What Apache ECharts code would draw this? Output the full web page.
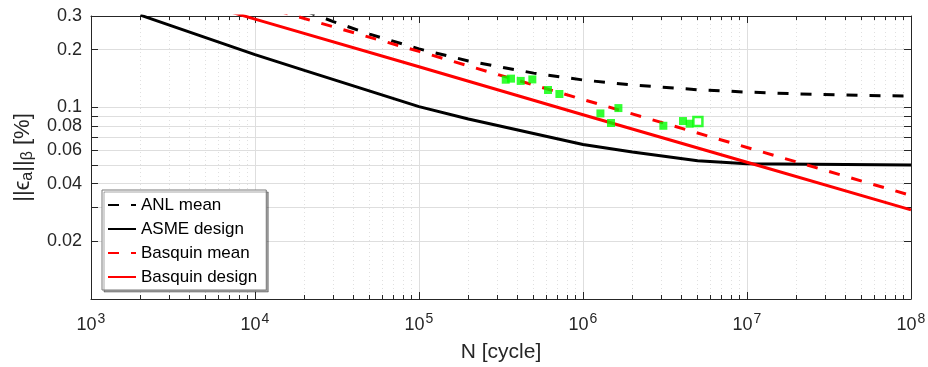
<!DOCTYPE html>
<html><head><meta charset="utf-8">
<script src="https://cdn.jsdelivr.net/npm/echarts@6/dist/echarts.min.js"></script>
<style>html,body{margin:0;padding:0;background:#fff}#c{width:928px;height:367px}</style>
</head><body><div id="c"></div>
<script>
// ---- data ----
const anlN = [2e4, 3e4, 5e4, 1e5, 2e5, 5e5, 1e6, 2e6, 5e6, 1e7, 2e7, 5e7, 1e8];
const anlS = [0.320, 0.2806, 0.2412, 0.202, 0.1748, 0.151, 0.139, 0.1309, 0.1237, 0.1202, 0.1177, 0.1155, 0.1145];
const asmeN = [2000, 1e4, 2e4, 1e5, 2e5, 1e6, 2e6, 5e6, 1e7, 1e8];
const asmeS = [0.303, 0.1885, 0.156, 0.101, 0.087, 0.064, 0.0585, 0.0527, 0.0508, 0.0500];
const basMeanN = [1e4, 1e5, 1e6, 1e7, 1e8];
const basMeanS = [0.345, 0.196, 0.110, 0.0618, 0.0347];
const basDesN = [5e3, 1e4, 1e5, 1e6, 1e7, 1e8];
const basDesS = [0.344, 0.289, 0.163, 0.0916, 0.0517, 0.0292];
const testN = [3.38e5, 3.64e5, 4.17e5, 4.91e5, 6.12e5, 7.18e5, 1.277e6, 1.644e6, 1.482e6, 3.09e6, 4.07e6, 4.47e6];
const testS = [0.1395, 0.1413, 0.1375, 0.140, 0.1233, 0.1175, 0.0930, 0.0992, 0.0829, 0.0802, 0.0849, 0.0822];
const runoutN = [5.02e6];
const runoutS = [0.0845];

const xMajorTicks = [1e3, 1e4, 1e5, 1e6, 1e7, 1e8];
const xMinorTicks = [2e3,3e3,4e3,5e3,6e3,7e3,8e3,9e3, 2e4,3e4,4e4,5e4,6e4,7e4,8e4,9e4,
  2e5,3e5,4e5,5e5,6e5,7e5,8e5,9e5, 2e6,3e6,4e6,5e6,6e6,7e6,8e6,9e6, 2e7,3e7,4e7,5e7,6e7,7e7,8e7,9e7];
const yTickLabels = [0.02, 0.04, 0.06, 0.08, 0.1, 0.2, 0.3];
const yTicks = [0.02, 0.03, 0.04, 0.05, 0.06, 0.07, 0.08, 0.09, 0.1, 0.2, 0.3];
const legendNames = ['ANL mean', 'ASME design', 'Basquin mean', 'Basquin design'];

// ---- chart ----
const zip = (a, b) => a.map((v, i) => [v, b[i]]);
const FONT = "'Liberation Sans', Arial, sans-serif";
const AX = '#262626';
const chart = echarts.init(document.getElementById('c'), null, {renderer: 'canvas'});

function xAxisBase(extra) {
  return Object.assign({
    type: 'log', logBase: 10, min: 1e3, max: 1e8, gridIndex: 0,
    axisLine: {show: true, lineStyle: {color: AX, width: 1}},
    axisLabel: {show: false},
    splitLine: {show: false},
    minorTick: {show: false}, minorSplitLine: {show: false}
  }, extra);
}
function yAxisBase(extra) {
  return Object.assign({
    type: 'log', logBase: 10, min: 0.01, max: 0.3, gridIndex: 0,
    axisLine: {show: true, lineStyle: {color: AX, width: 1}},
    axisLabel: {show: false},
    splitLine: {show: false},
    minorTick: {show: false}, minorSplitLine: {show: false}
  }, extra);
}

const option = {
  animation: false,
  backgroundColor: '#fff',
  grid: {left: 91, top: 16, width: 820, height: 283, containLabel: false, outerBoundsMode: 'none'},
  xAxis: [
    xAxisBase({
      position: 'bottom',
      name: 'N [cycle]', nameLocation: 'middle', nameGap: 43,
      nameTextStyle: {fontFamily: FONT, fontSize: 21, color: AX},
      axisTick: {show: true, inside: true, length: 7, customValues: xMajorTicks, lineStyle: {color: AX}},
      splitLine: {show: true, lineStyle: {color: '#dedede', width: 1}},
      axisLabel: {
        show: true, customValues: xMajorTicks, margin: 13, color: AX,
        formatter: v => '{b|10}{s|' + Math.round(Math.log10(v)) + '}',
        rich: {
          b: {fontFamily: FONT, fontSize: 18, color: AX},
          s: {fontFamily: FONT, fontSize: 14, color: AX, padding: [0, 0, 12, 1]}
        }
      }
    }),
    xAxisBase({
      position: 'bottom',
      axisLine: {show: false},
      axisTick: {show: true, inside: true, length: 4, customValues: xMinorTicks, lineStyle: {color: AX}},
      splitLine: {show: true, lineStyle: {color: '#e0e0e0', width: 1, type: [1, 3]}}
    }),
    xAxisBase({
      position: 'top',
      axisTick: {show: true, inside: true, length: 7, customValues: xMajorTicks, lineStyle: {color: AX}}
    }),
    xAxisBase({
      position: 'top',
      axisLine: {show: false},
      axisTick: {show: true, inside: true, length: 4, customValues: xMinorTicks, lineStyle: {color: AX}}
    })
  ],
  yAxis: [
    yAxisBase({
      position: 'left',
      name: '{n|||ϵ}{sub|a}{n|||}{sub|β}{n| [%]}',
      nameLocation: 'middle', nameGap: 52,
      nameTextStyle: {
        fontFamily: FONT, fontSize: 22, color: AX,
        rich: {
          n: {fontFamily: FONT, fontSize: 22, color: AX},
          sub: {fontFamily: FONT, fontSize: 16, color: AX, padding: [11, 0, 0, 0]}
        }
      },
      axisTick: {show: true, inside: true, length: 7, customValues: yTicks, lineStyle: {color: AX}},
      splitLine: {show: true, lineStyle: {color: '#dedede', width: 1}},
      axisLabel: {
        show: true, customValues: yTickLabels, margin: 9, color: AX,
        fontFamily: FONT, fontSize: 18,
        formatter: v => String(+v.toFixed(2))
      }
    }),
    yAxisBase({
      position: 'right',
      axisTick: {show: true, inside: true, length: 7, customValues: yTicks, lineStyle: {color: AX}}
    })
  ],
  legend: {
    data: legendNames,
    orient: 'vertical', left: 102, top: 190,
    padding: [6, 9, 4, 5], itemGap: 6,
    itemWidth: 28, itemHeight: 14,
    itemStyle: {opacity: 0},
    backgroundColor: '#fff', borderColor: '#7a7a7a', borderWidth: 1,
    shadowColor: 'rgba(0,0,0,0.35)', shadowBlur: 0, shadowOffsetX: 2, shadowOffsetY: 2,
    textStyle: {fontFamily: FONT, fontSize: 17, color: '#000', lineHeight: 18},
    selectedMode: false
  },
  series: [
    {name: 'ANL mean', type: 'line', data: zip(anlN, anlS), symbol: 'none', z: 3,
     lineStyle: {color: '#000', width: 3, type: [11, 12]}, itemStyle: {color: '#000'}},
    {name: 'ASME design', type: 'line', data: zip(asmeN, asmeS), symbol: 'none', z: 3,
     lineStyle: {color: '#000', width: 3}, itemStyle: {color: '#000'}},
    {name: 'Basquin mean', type: 'line', data: zip(basMeanN, basMeanS), symbol: 'none', z: 3,
     lineStyle: {color: '#ff0000', width: 3, type: [11, 12]}, itemStyle: {color: '#ff0000'}},
    {name: 'Basquin design', type: 'line', data: zip(basDesN, basDesS), symbol: 'none', z: 3,
     lineStyle: {color: '#ff0000', width: 3}, itemStyle: {color: '#ff0000'}},
    {name: 'Tests', type: 'scatter', data: zip(testN, testS), symbol: 'rect', symbolSize: 8, z: 4,
     itemStyle: {color: '#00ff00'}},
    {name: 'Runout', type: 'scatter', data: zip(runoutN, runoutS), symbol: 'rect', symbolSize: 9, z: 4,
     itemStyle: {color: '#ffffff', borderColor: '#00ff00', borderWidth: 2.5}}
  ]
};
chart.setOption(option);
</script>
</body></html>
